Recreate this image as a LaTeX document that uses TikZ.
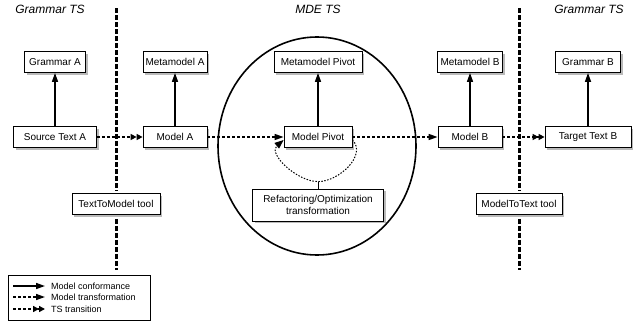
\documentclass[tikz,border=0pt]{standalone}
\usepackage{fontspec}
\setmainfont{Liberation Sans}
\usetikzlibrary{arrows.meta}
\usetikzlibrary{shadows}

\tikzset{
  box/.style={draw, line width=0.8pt, fill=white, minimum height=21pt, inner xsep=2pt,
    font=\fontsize{10}{12}\selectfont,
    drop shadow={shadow xshift=2pt, shadow yshift=-2pt, fill=black!45, opacity=0.6}},
  conf/.style={line width=1.5pt, -{Triangle[length=9pt,width=6pt]}},
  trans/.style={line width=1.5pt, dash pattern=on 3pt off 2pt, -{Triangle[length=9pt,width=6pt]}},
  tstrans/.style={line width=1.5pt, dash pattern=on 3pt off 2pt,
    -{Triangle[length=6pt,width=6pt]Triangle[length=6pt,width=6pt]}},
  loopline/.style={line width=1pt, dash pattern=on 1.5pt off 1.5pt, -{Triangle[length=9pt,width=7pt]}},
  separator/.style={line width=3pt, dash pattern=on 5pt off 2pt},
  tstitle/.style={font=\fontsize{12}{14}\selectfont\itshape},
}

\begin{document}
\begin{tikzpicture}[x=1pt,y=1pt]
 \useasboundingbox (0,0) rectangle (644,-324);

 % technical spaces
 \node[tstitle] (tsleft) at (50,-9.5) {Grammar TS};
 \node[tstitle] (tsmde) at (318,-9.5) {MDE TS};
 \node[tstitle] (tsright) at (589,-9.5) {Grammar TS};
 \draw[line width=1.6pt] (317,-146) ellipse [x radius=99, y radius=109];

 % metamodels / grammars
 \node[box, minimum width=61pt] (gramA) at (55,-62) {Grammar A};
 \node[box, minimum width=64pt] (metaA) at (175,-62) {Metamodel A};
 \node[box, minimum width=88pt] (metaP) at (318,-62) {Metamodel Pivot};
 \node[box, minimum width=65pt] (metaB) at (470,-62) {Metamodel B};
 \node[box, minimum width=65pt] (gramB) at (588,-62) {Grammar B};

 % models / texts
 \node[box, minimum width=83pt] (srcA) at (55,-137) {Source Text A};
 \node[box, minimum width=64pt] (modA) at (175,-137) {Model A};
 \node[box, minimum width=68pt] (modP) at (318,-137) {Model Pivot};
 \node[box, minimum width=64pt] (modB) at (470,-137) {Model B};
 \node[box, minimum width=86pt] (tgtB) at (588,-137) {Target Text B};

 \node[box, minimum width=131pt, minimum height=32pt, align=center] (refac) at (318,-205)
   {Refactoring/Optimization\\transformation};

 % tools on the TS borders
 \node[box, minimum width=88pt] (t2m) at (116,-204) {TextToModel tool};
 \node[box, minimum width=86pt] (m2t) at (519,-204) {ModelToText tool};
 \coordinate (sepAtop) at (116,-8);
 \coordinate (sepAbot) at (116,-270);
 \coordinate (sepBtop) at (519,-8);
 \coordinate (sepBbot) at (519,-270);
 \draw[separator, shorten >=3pt] (sepAtop) -- (t2m);
 \draw[separator, shorten <=4pt] (t2m) -- (sepAbot);
 \draw[separator, shorten >=3pt] (sepBtop) -- (m2t);
 \draw[separator, shorten <=4pt] (m2t) -- (sepBbot);

 % conformance
 \draw[conf] (srcA) -- (gramA);
 \draw[conf] (modA) -- (metaA);
 \draw[conf] (modP) -- (metaP);
 \draw[conf] (modB) -- (metaB);
 \draw[conf] (tgtB) -- (gramB);

 % transformations
 \draw[tstrans] (srcA) -- (modA);
 \draw[trans] (modA) -- (modP);
 \draw[trans] (modP) -- (modB);
 \draw[tstrans] (modB) -- (tgtB);

 % refactoring loop
 \coordinate (loopb) at ([yshift=7pt]refac.north);
 \draw[loopline] ([yshift=-3pt]modP.east) to[out=-45,in=0] (loopb)
   to[out=180,in=-140] ([yshift=-3pt]modP.west);
 \draw[line width=0.8pt] (loopb) -- (refac.north);

 % legend
 \node[draw, line width=0.8pt, minimum width=142pt, minimum height=45pt] (legend) at (79,-297.5) {};
 \foreach \y/\st/\txt in {286/conf/Model conformance, 297/trans/Model transformation, 309/tstrans/TS transition}{
   \coordinate (leg\y a) at (13,-\y);
   \coordinate (leg\y b) at (45,-\y);
   \draw[\st] (leg\y a) -- (leg\y b);
   \node[anchor=west, inner sep=0pt, font=\fontsize{9}{11}\selectfont] (legtxt\y) at (51,-\y) {\txt};
 }
\end{tikzpicture}
\end{document}
